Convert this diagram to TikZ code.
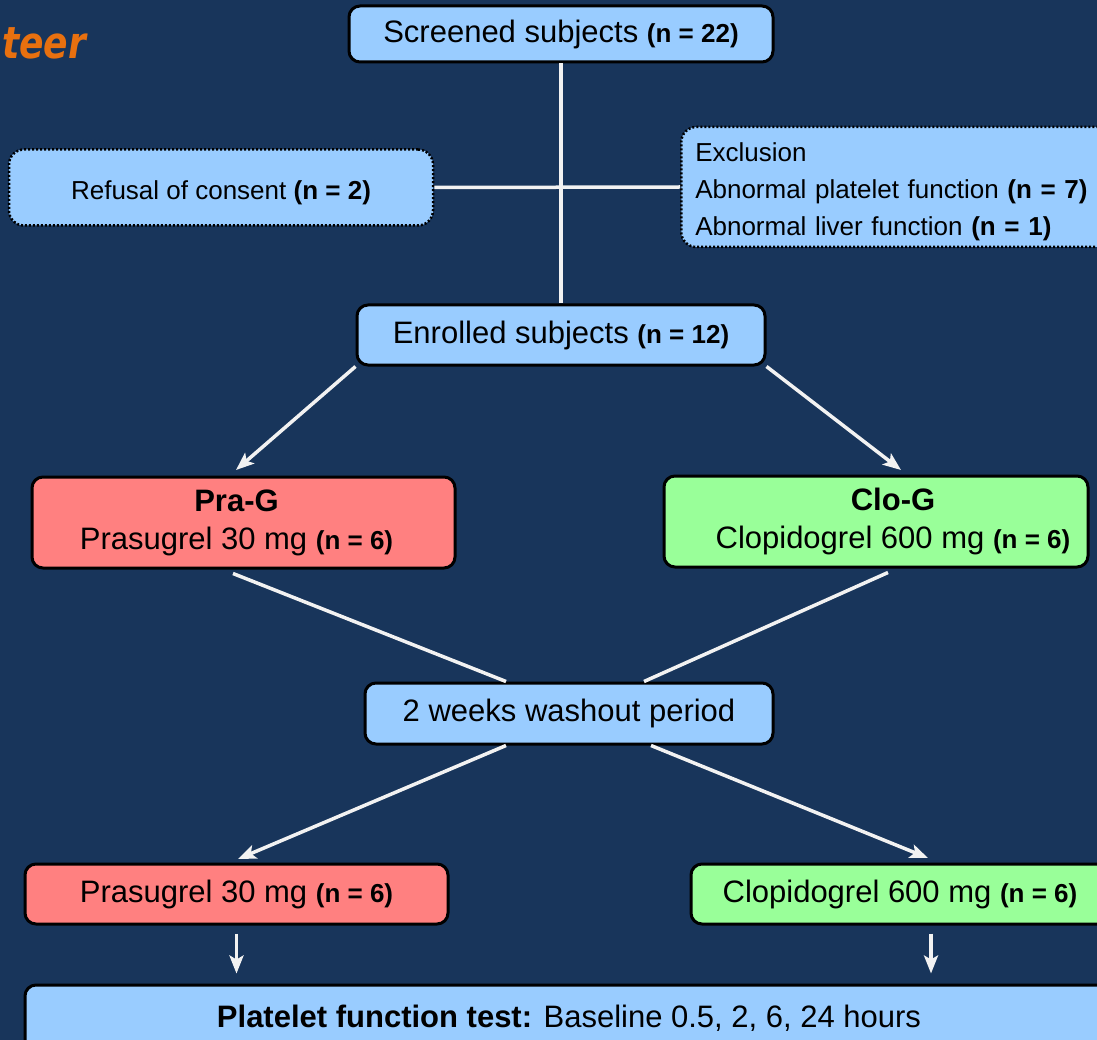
\documentclass[tikz,border=0pt]{standalone}
\usepackage{fontspec}
\setmainfont{Liberation Sans}
\newfontfamily\titlefont{DejaVu Sans}
\usetikzlibrary{arrows.meta}
\definecolor{bgc}{HTML}{18355B}
\definecolor{lblue}{HTML}{99CCFF}
\definecolor{lred}{HTML}{FF8080}
\definecolor{lgreen}{HTML}{99FF99}
\definecolor{orng}{HTML}{E8700F}
\definecolor{wline}{HTML}{F2F2F2}
\newcommand{\ncount}[1]{{\bfseries\fontsize{26}{30}\selectfont #1}}
\begin{document}
\begin{tikzpicture}[x=1pt,y=-1pt,
  box/.style={draw=black, line width=3pt, rounded corners=11pt, inner sep=0pt, align=center,
    font=\fontsize{31}{38}\selectfont},
  dotbox/.style={box, line width=2.5pt, dash pattern=on 2pt off 2pt, rounded corners=15pt,
    font=\fontsize{26}{37}\selectfont},
  conn/.style={draw=wline, line width=3.5pt},
  arr/.style={conn, -{Stealth[length=18pt,width=14pt,inset=4pt]}}]
\useasboundingbox (0,0) rectangle (1097,1040);
\clip (0,0) rectangle (1097,1040);
\fill[bgc] (0,0) rectangle (1097,1040);

% title fragment
\node[anchor=base west, inner sep=0pt, text=orng] (ttl) at (2,59)
  {\scalebox{0.82}[1]{\titlefont\bfseries\itshape\fontsize{44}{50}\selectfont teer}};

% boxes
\node[box, fill=lblue, minimum width=424pt, minimum height=56pt] (scr) at (561,34)
  {Screened subjects \ncount{(n = 22)}};
\node[dotbox, fill=lblue, minimum width=424pt, minimum height=76pt] (ref) at (221,187.5)
  {\rule{0pt}{30pt}Refusal of consent \textbf{(n = 2)}};
\node[dotbox, fill=lblue, minimum height=120pt, text width=416pt, inner xsep=14pt, align=left, anchor=west] (exc) at (680,187)
  {\rule{0pt}{29pt}Exclusion\\Abnormal platelet function \textbf{(n = 7)}\\Abnormal liver function \textbf{(n = 1)}};
\node[box, fill=lblue, minimum width=408pt, minimum height=60pt] (enr) at (561,335)
  {Enrolled subjects \ncount{(n = 12)}};
\node[box, fill=lred, minimum width=423pt, minimum height=91pt] (pra) at (243.5,522.5)
  {\begin{tabular}{@{}c@{}}\textbf{Pra-G}\\Prasugrel 30 mg \ncount{(n = 6)}\end{tabular}\hspace*{14pt}};
\node[box, fill=lgreen, minimum width=424pt, minimum height=91pt] (clo) at (876,521.5)
  {\hspace*{34pt}\begin{tabular}{@{}c@{}}\textbf{Clo-G}\\Clopidogrel 600 mg \ncount{(n = 6)}\end{tabular}};
\node[box, fill=lblue, minimum width=408pt, minimum height=61pt] (wash) at (569,713.5)
  {2 weeks washout period};
\node[box, fill=lred, minimum width=423pt, minimum height=60pt] (pra2) at (236.5,894)
  {Prasugrel 30 mg \ncount{(n = 6)}};
\node[box, fill=lgreen, minimum width=418pt, minimum height=60pt] (clo2) at (900,894)
  {Clopidogrel 600 mg \ncount{(n = 6)}};
\node[box, fill=lblue, minimum width=1088pt, minimum height=66pt] (bot) at (569,1018)
  {\textbf{Platelet function test:} Baseline 0.5, 2, 6, 24 hours};

% free ends
\coordinate (t1) at (236,470);
\coordinate (t2) at (901,470);
\coordinate (t3) at (238,859);
\coordinate (t4) at (928,858);

% connectors
\draw[conn] (scr.south) -- (enr.north);
\draw[conn] (ref.east) -- (exc.west);
\draw[arr] (enr.south west) -- (t1);
\draw[arr] (enr.south east) -- (t2);
\draw[conn] ([shift={(-10.5,4)}]pra.south) -- ([xshift=-63pt]wash.north);
\draw[conn] ([shift={(12,4)}]clo.south) -- ([xshift=75pt]wash.north);
\draw[arr] ([xshift=-63pt]wash.south) -- (t3);
\draw[arr] ([xshift=82pt]wash.south) -- (t4);
\draw[arr, shorten <=8pt, shorten >=10pt] (pra2.south) -- (pra2.south |- bot.north);
\draw[arr, shorten <=8pt, shorten >=10pt] ([xshift=31pt]clo2.south) -- ([xshift=31pt]clo2.south |- bot.north);
\end{tikzpicture}
\end{document}
